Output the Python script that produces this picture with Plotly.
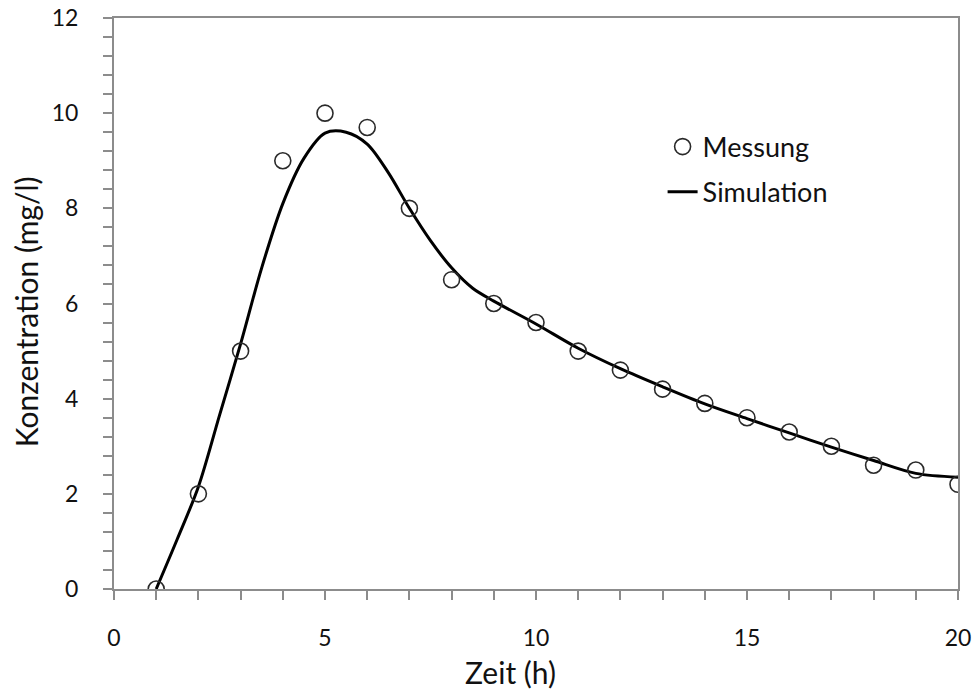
import plotly.graph_objects as go

# Measured data (Messung)
time_h = [1, 2, 3, 4, 5, 6, 7, 8, 9, 10, 11, 12, 13, 14, 15, 16, 17, 18, 19, 20]
measured = [0, 2, 5, 9, 10, 9.7, 8, 6.5, 6, 5.6, 5, 4.6, 4.2, 3.9, 3.6, 3.3, 3.0, 2.6, 2.5, 2.2]

# Simulated curve (Simulation)
sim_time = [1, 1.5, 2, 2.5, 3, 3.5, 4, 4.5, 5, 5.5, 6, 6.5, 7, 7.5, 8, 8.5, 9,
            10, 11, 12, 13, 14, 15, 16, 17, 18, 19, 20]
sim_values = [0, 1.05, 2.15, 3.65, 5.15, 6.75, 8.1, 9.05, 9.58, 9.6, 9.35, 8.75, 8.0, 7.32, 6.75, 6.32, 6.05,
              5.57, 5.06, 4.63, 4.25, 3.89, 3.58, 3.28, 2.98, 2.7, 2.43, 2.35]

x_ticks = [0, 5, 10, 15, 20]
y_ticks = [0, 2, 4, 6, 8, 10, 12]
x_title = "Zeit (h)"
y_title = "Konzentration (mg/l)"

FONT = "Lato"
TXT = "#111111"
AX = "#8c8c8c"

fig = go.Figure()
fig.add_trace(go.Scatter(
    x=sim_time, y=sim_values, mode="lines", name="Simulation",
    line=dict(color="black", width=3, shape="spline", smoothing=0.9),
    legend="legend2",
))
fig.add_trace(go.Scatter(
    x=time_h, y=measured, mode="markers", name="Messung",
    marker=dict(symbol="circle-open", size=16, color="#2a2a2a", line=dict(width=1.6, color="#2a2a2a")),
    legend="legend",
))

axis_common = dict(
    showgrid=False, zeroline=False, showline=True, linecolor=AX, linewidth=2,
    mirror=True, ticks="outside", ticklen=9, tickcolor=AX, tickwidth=2,
    tickfont=dict(family=FONT, size=23, color=TXT), automargin=False,
)

fig.update_xaxes(
    range=[0, 20], tickvals=x_ticks, ticklabelstandoff=18,
    minor=dict(dtick=1, ticks="outside", ticklen=9, tickcolor=AX, tickwidth=2),
    **axis_common,
)
fig.update_yaxes(
    range=[0, 12], tickvals=y_ticks, ticklabelstandoff=20,
    minor=dict(dtick=0.4, ticks="outside", ticklen=9, tickcolor=AX, tickwidth=2),
    **axis_common,
)

fig.add_annotation(
    text=x_title, xref="paper", yref="paper", x=0.470, y=-0.145,
    xanchor="center", yanchor="middle", showarrow=False,
    font=dict(family=FONT, size=30, color=TXT),
)
fig.add_annotation(
    text=y_title, xref="paper", yref="paper", x=-0.104, y=0.485,
    xanchor="center", yanchor="middle", showarrow=False, textangle=-90,
    font=dict(family=FONT, size=30, color=TXT),
)

legend_common = dict(
    xref="paper", yref="paper", xanchor="left", yanchor="middle",
    bgcolor="rgba(0,0,0,0)", borderwidth=0,
    font=dict(family=FONT, size=27, color=TXT),
)
fig.update_layout(
    width=977, height=689,
    margin=dict(l=114, r=19, t=18, b=100, pad=0),
    paper_bgcolor="white", plot_bgcolor="white",
    legend=dict(x=0.650, y=0.774, **legend_common),
    legend2=dict(x=0.650, y=0.695, **legend_common),
    showlegend=True,
)

fig.write_html(
    "out.html",
    config={"displayModeBar": False},
    post_script="document.body.style.margin='0';document.body.style.overflow='hidden';",
)
